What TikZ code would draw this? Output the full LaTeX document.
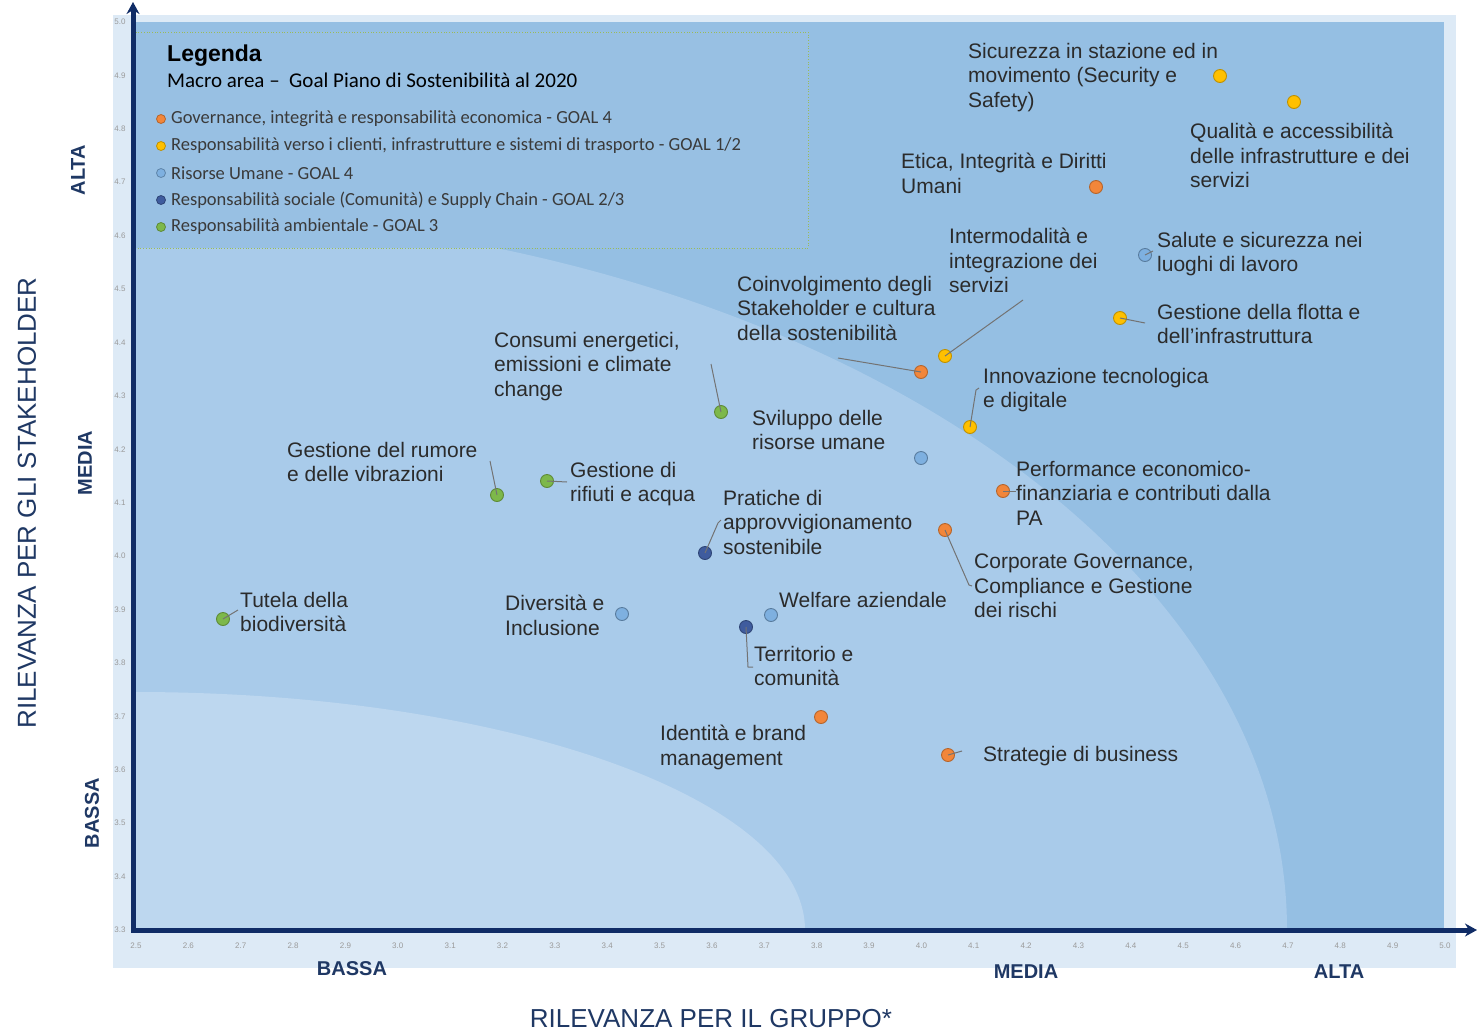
\documentclass[tikz,border=0pt]{standalone}
\usepackage{fontspec}
\setmainfont{Liberation Sans}
\newfontfamily\legfont{Carlito}
\usetikzlibrary{positioning,arrows.meta}
\definecolor{navy}{HTML}{1F3864}
\definecolor{axisblue}{HTML}{102C66}
\definecolor{panel}{HTML}{DDEAF6}
\definecolor{zonehigh}{HTML}{95BFE3}
\definecolor{zonemid}{HTML}{A9CBEA}
\definecolor{zonelow}{HTML}{BDD7EF}
\definecolor{legfill}{HTML}{98C0E3}
\definecolor{legline}{HTML}{9BBB59}
\definecolor{goalgov}{HTML}{F2863A}
\definecolor{goalcli}{HTML}{FFC000}
\definecolor{goalhr}{HTML}{7EB0E0}
\definecolor{goalsoc}{HTML}{3F5C9E}
\definecolor{goalenv}{HTML}{7DB84A}
\definecolor{labtext}{HTML}{2B2B2B}
\definecolor{legtext}{HTML}{3A3A3A}
\definecolor{ticktext}{HTML}{9A9A9A}
\tikzset{
  topic/.style={circle,inner sep=0pt,minimum size=13pt,line width=0.9pt},
  gov/.style={topic,fill=goalgov,draw=goalgov!75!black},
  cli/.style={topic,fill=goalcli,draw=goalcli!75!black},
  hr/.style={topic,fill=goalhr,draw=goalhr!70!black},
  soc/.style={topic,fill=goalsoc,draw=goalsoc!75!black},
  env/.style={topic,fill=goalenv,draw=goalenv!75!black},
  lab/.style={anchor=north west,inner sep=0pt,align=left,text=labtext,font=\fontsize{21}{24.5}\selectfont},
  leader/.style={draw=black!55,line width=1pt},
  tick/.style={inner sep=0pt,text=ticktext,font=\fontsize{8}{8}\selectfont},
  level/.style={inner sep=0pt,text=navy,font=\bfseries\fontsize{20}{20}\selectfont},
  axtitle/.style={inner sep=0pt,text=navy,font=\fontsize{26}{26}\selectfont},
  legdot/.style={circle,inner sep=0pt,minimum size=9pt,line width=0.8pt},
  legitem/.style={inner sep=0pt,anchor=west,text=legtext,font=\legfont\fontsize{18.5}{20}\selectfont}
}
\begin{document}
\begin{tikzpicture}[x=1pt,y=-1pt]
\useasboundingbox (0,0) rectangle (1477,1034);
% background zones
\fill[panel] (113,15) rectangle (1456,968);
\fill[zonehigh] (135,22) rectangle (1444,928);
\begin{scope}
\clip (135,22) rectangle (1444,928);
\fill[zonemid] (135,930) ellipse [x radius=1152,y radius=718];
\fill[zonelow] (135,930) ellipse [x radius=670,y radius=238];
\end{scope}
% legend
\draw[legline,fill=legfill,dotted,line width=0.7pt] (135,32) rectangle (808,248);
\node[anchor=west,inner sep=0pt,font=\bfseries\fontsize{23}{26}\selectfont] (legtitle) at (167,56) {Legenda};
\node[anchor=west,inner sep=0pt,font=\legfont\fontsize{21}{24}\selectfont] (legsub) at (167,80) {Macro area –\ \ Goal Piano di Sostenibilità al 2020};
\foreach \c/\t [count=\i] in {gov/{Governance, integrità e responsabilità economica - GOAL 4},
  cli/{Responsabilità verso i clienti, infrastrutture e sistemi di trasporto - GOAL 1/2},
  hr/{Risorse Umane - GOAL 4},
  soc/{Responsabilità sociale (Comunità) e Supply Chain - GOAL 2/3},
  env/{Responsabilità ambientale - GOAL 3}}{
  \node[legdot,fill=goal\c,draw=goal\c!75!black] (ld\i) at (161,92+27*\i) {};
  \node[legitem,right=5pt of ld\i] (li\i) {\t};
}
% ticks
\foreach \v [count=\i from 0] in {5.0,4.9,4.8,4.7,4.6,4.5,4.4,4.3,4.2,4.1,4.0,3.9,3.8,3.7,3.6,3.5,3.4,3.3}
  \node[tick] (yt\i) at (120,22+53.41*\i) {\v};
\foreach \v [count=\i from 0] in {2.5,2.6,2.7,2.8,2.9,3.0,3.1,3.2,3.3,3.4,3.5,3.6,3.7,3.8,3.9,4.0,4.1,4.2,4.3,4.4,4.5,4.6,4.7,4.8,4.9,5.0}
  \node[tick] (xt\i) at (136+52.36*\i,946) {\v};
% axes
\coordinate (origin) at (133,930);
\coordinate (xend) at (1477,930);
\coordinate (yend) at (133,2);
\draw[axisblue,line width=5pt,{Stealth[length=12pt,width=13pt]}-{Stealth[length=12pt,width=13pt]}] (yend) -- (origin) -- (xend);
\node[axtitle,rotate=90] (ytitle) at (27,503) {RILEVANZA PER GLI STAKEHOLDER};
\node[level,rotate=90] (yalta) at (78,170) {ALTA};
\node[level,rotate=90] (ymedia) at (85,463) {MEDIA};
\node[level,rotate=90] (ybassa) at (92,813) {BASSA};
\node[level] (xbassa) at (352,969) {BASSA};
\node[level] (xmedia) at (1026,972) {MEDIA};
\node[level] (xalta) at (1339,972) {ALTA};
\node[axtitle] (xtitle) at (711,1019) {RILEVANZA PER IL GRUPPO*};
% topics
\node[cli] (dSic) at (1220,76) {};
\node[cli] (dQual) at (1294,102) {};
\node[gov] (dEtica) at (1096,187) {};
\node[hr] (dSal) at (1145,255) {};
\node[cli] (dFlot) at (1120,318) {};
\node[cli] (dInter) at (945,356) {};
\node[gov] (dCoin) at (921,372) {};
\node[env] (dCons) at (721,412) {};
\node[cli] (dInno) at (970,427) {};
\node[hr] (dSvil) at (921,458) {};
\node[env] (dRif) at (547,481) {};
\node[env] (dRum) at (497,495) {};
\node[gov] (dPerf) at (1003,491) {};
\node[gov] (dCorp) at (945,530) {};
\node[soc] (dPrat) at (705,553) {};
\node[hr] (dDiv) at (622,614) {};
\node[hr] (dWelf) at (771,615) {};
\node[env] (dTut) at (223,619) {};
\node[soc] (dTerr) at (746,627) {};
\node[gov] (dIdent) at (821,717) {};
\node[gov] (dStrat) at (948,755) {};
% labels
\node[lab] (tSic) at (968,43) {Sicurezza in stazione ed in\\movimento (Security e\\Safety)};
\node[lab] (tQual) at (1190,123) {Qualità e accessibilità\\delle infrastrutture e dei\\servizi};
\node[lab] (tEtica) at (901,153) {Etica, Integrità e Diritti\\Umani};
\node[lab] (tInter) at (949,228) {Intermodalità e\\integrazione dei\\servizi};
\node[lab] (tSal) at (1157,232) {Salute e sicurezza nei\\luoghi di lavoro};
\node[lab] (tCoin) at (737,276) {Coinvolgimento degli\\Stakeholder e cultura\\della sostenibilità};
\node[lab] (tFlot) at (1157,304) {Gestione della flotta e\\dell'infrastruttura};
\node[lab] (tCons) at (494,332) {Consumi energetici,\\emissioni e climate\\change};
\node[lab] (tInno) at (983,368) {Innovazione tecnologica\\e digitale};
\node[lab] (tSvil) at (752,410) {Sviluppo delle\\risorse umane};
\node[lab] (tRum) at (287,442) {Gestione del rumore\\e delle vibrazioni};
\node[lab] (tRif) at (570,462) {Gestione di\\rifiuti e acqua};
\node[lab] (tPerf) at (1016,461) {Performance economico-\\finanziaria e contributi dalla\\PA};
\node[lab] (tPrat) at (723,490) {Pratiche di\\approvvigionamento\\sostenibile};
\node[lab] (tCorp) at (974,554) {Corporate Governance,\\Compliance e Gestione\\dei rischi};
\node[lab] (tWelf) at (779,592) {Welfare aziendale};
\node[lab] (tTut) at (240,592) {Tutela della\\biodiversità};
\node[lab] (tDiv) at (505,595) {Diversità e\\Inclusione};
\node[lab] (tTerr) at (754,646) {Territorio e\\comunità};
\node[lab] (tIdent) at (660,725) {Identità e brand\\management};
\node[lab] (tStrat) at (983,746) {Strategie di business};
% leader lines
\coordinate (eCoin) at (838,358);
\coordinate (eInter) at (1023,300);
\coordinate (eInno) at (976,390);
\coordinate (eCons) at (711,364);
\coordinate (eRum) at (490,461);
\coordinate (eRif) at (567,482);
\coordinate (eTut) at (238,610);
\coordinate (ePrat) at (718,523);
\coordinate (eCorp) at (969,585);
\coordinate (ePerf) at (1016,491);
\coordinate (eStrat) at (962,751);
\coordinate (eTerr) at (748,667);
\coordinate (eSal) at (1153,251);
\coordinate (eFlot) at (1145,323);
\draw[leader] (dCoin.center) -- (eCoin);
\draw[leader] (dInter.center) -- (eInter);
\draw[leader] (dInno.center) -- (eInno) -- ++(3,-2);
\draw[leader] (dCons.center) -- (eCons);
\draw[leader] (dRum.center) -- (eRum);
\draw[leader] (dRif.center) -- (eRif);
\draw[leader] (dTut.center) -- (eTut);
\draw[leader] (dPrat.center) -- (ePrat) -- ++(3,-3);
\draw[leader] (dCorp.center) -- (eCorp) -- ++(3,1);
\draw[leader] (dPerf.center) -- (ePerf);
\draw[leader] (dStrat.center) -- (eStrat);
\draw[leader] (dTerr.center) -- (eTerr) -- ++(5,0);
\draw[leader] (dSal.center) -- (eSal);
\draw[leader] (dFlot.center) -- (eFlot);
\end{tikzpicture}
\end{document}
